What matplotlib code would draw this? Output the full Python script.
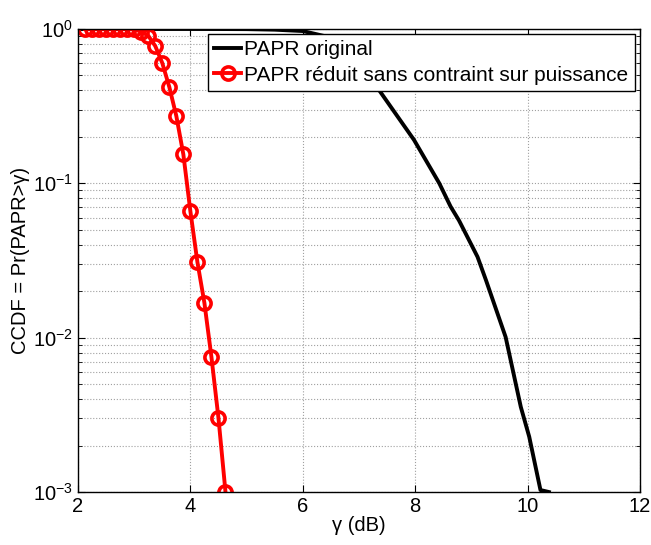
import matplotlib
matplotlib.use("Agg")
import matplotlib.pyplot as plt
import numpy as np

plt.rcParams['font.family'] = ['Liberation Sans', 'DejaVu Sans']

# Original PAPR curve (black)
x_orig = [2.0, 3.0, 4.0, 4.5, 5.0, 5.5, 6.0, 6.5, 7.0, 7.4, 7.98, 8.43, 8.63, 8.78, 9.11, 9.26, 9.61, 9.88, 10.03, 10.23, 10.38]
y_orig = [1.0, 1.0, 1.0, 0.9995, 0.998, 0.99, 0.97, 0.88, 0.62, 0.382, 0.191, 0.100, 0.0708, 0.0575, 0.0334, 0.0236, 0.0101, 0.00356, 0.00228, 0.00103, 0.001]

# Reduced PAPR curve (red, circles)
x_red = [2.125, 2.25, 2.375, 2.5, 2.625, 2.75, 2.875, 3.0, 3.125, 3.25, 3.375,
         3.5, 3.625, 3.75, 3.875, 4.0, 4.125, 4.25, 4.375, 4.5, 4.625]
y_red = [1.0, 1.0, 1.0, 1.0, 1.0, 1.0, 1.0, 0.995, 0.960, 0.905, 0.776,
         0.602, 0.421, 0.273, 0.154, 0.066, 0.0309, 0.01676, 0.00748, 0.00301, 0.001]

labels = ['PAPR original', 'PAPR réduit sans contraint sur puissance']

fig = plt.figure(figsize=(6.51, 5.45), dpi=100)
ax = fig.add_axes([0.1198, 0.0972, 0.983 - 0.1198, 0.9468 - 0.0972])

ax.semilogy(x_orig, y_orig, color='black', linewidth=2.8, label=labels[0])
ax.semilogy(x_red, y_red, color='red', linewidth=2.8, marker='o', markersize=9.5,
            markerfacecolor='none', markeredgewidth=2.6, markeredgecolor='red', label=labels[1])

ax.set_xlim(2, 12)
ax.set_ylim(1e-3, 1)
ax.set_xticks([2, 4, 6, 8, 10, 12])
ax.grid(True, which='major', axis='x', linestyle=':', color='#a0a0a0', linewidth=0.8)
ax.grid(True, which='both', axis='y', linestyle=':', color='#a0a0a0', linewidth=0.8)
ax.tick_params(which='both', direction='in', top=True, right=True, labelsize=14.5)
ax.tick_params(which='major', length=5)
ax.tick_params(which='minor', length=3)
for s in ax.spines.values():
    s.set_linewidth(1.0)

ax.set_xlabel('γ (dB)', fontsize=14.5, labelpad=0)
ax.set_ylabel('CCDF = Pr(PAPR>γ)', fontsize=14.5, labelpad=2)

leg = ax.legend(loc='upper right', fontsize=15, frameon=True, fancybox=False,
                edgecolor='black', framealpha=1, borderpad=0.3, labelspacing=0.3,
                handlelength=1.3, handletextpad=0.15, borderaxespad=0.25)
leg.get_frame().set_linewidth(1.0)

fig.savefig('out.png', dpi=100)
